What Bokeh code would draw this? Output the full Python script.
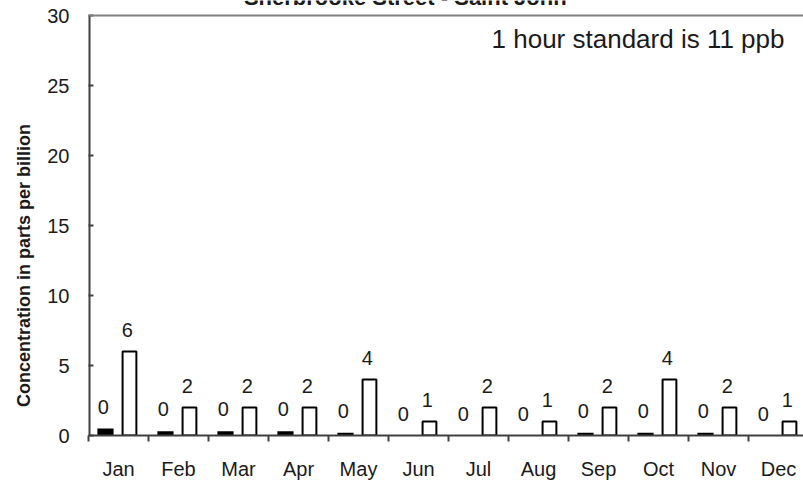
import math
from bokeh.plotting import figure
from bokeh.models import ColumnDataSource, FixedTicker, Label, Span, Range1d
from bokeh.transform import dodge
from bokeh.core.properties import value
from bokeh.embed import file_html
from bokeh.resources import INLINE

# ---- data ----
months = ["Jan", "Feb", "Mar", "Apr", "May", "Jun", "Jul", "Aug", "Sep", "Oct", "Nov", "Dec"]
series_black = [0.5, 0.3, 0.3, 0.3, 0.2, 0.0, 0.0, 0.0, 0.2, 0.2, 0.2, 0.0]
series_white = [6, 2, 2, 2, 4, 1, 2, 1, 2, 4, 2, 1]
labels_black = ["0", "0", "0", "0", "0", "0", "0", "0", "0", "0", "0", "0"]
labels_white = ["6", "2", "2", "2", "4", "1", "2", "1", "2", "4", "2", "1"]
y_ticks = [0, 5, 10, 15, 20, 25, 30]
title_text = "Sherbrooke Street - Saint John"
y_title = "Concentration in parts per billion"
note_text = "1 hour standard is 11 ppb"

FONT = "Liberation Sans"
TXT = "#1a1a1a"
AX = "#404040"

idx = list(range(len(months)))
src = ColumnDataSource(dict(idx=idx, black=series_black, white=series_white,
                            lb=labels_black, lw=labels_white))

y_top = y_ticks[-1]
# frame reaches the top of the canvas so the (cut-off) title can be drawn inside it
p = figure(width=803, height=482, output_backend="svg", toolbar_location=None,
           x_range=Range1d(-0.5, 11.4167), y_range=Range1d(0, y_top * 435 / 420),
           min_border_left=88, min_border_right=0, min_border_top=0, min_border_bottom=47,
           margin=(0, 0, 0, 0))
p.outline_line_color = None
p.xgrid.visible = False
p.ygrid.visible = False
p.background_fill_color = "white"
p.border_fill_color = "white"

# left axis line (from 0 up to the top tick only)
p.segment(x0=p.x_range.start, y0=y_ticks[0], x1=p.x_range.start, y1=y_top,
          line_color=AX, line_width=4)
# top line
p.add_layout(Span(location=y_top, dimension="width", line_color="#808080", line_width=2))

# bars
p.vbar(x=dodge("idx", -0.217, range=p.x_range), top="black", width=0.27, source=src,
       fill_color="black", line_color=None)
p.vbar(x=dodge("idx", 0.183, range=p.x_range), top="white", width=0.23, source=src,
       fill_color="white", line_color="black", line_width=2)

# value labels
p.text(x=dodge("idx", -0.255, range=p.x_range), y="black", text="lb", source=src,
       text_align="center", text_baseline="alphabetic", y_offset=-22,
       text_font=value(FONT), text_font_size="20px", text_color=TXT)
p.text(x=dodge("idx", 0.145, range=p.x_range), y="white", text="lw", source=src,
       text_align="center", text_baseline="alphabetic", y_offset=-22,
       text_font=value(FONT), text_font_size="20px", text_color=TXT)

# x axis
xa = p.xaxis[0]
xa.ticker = FixedTicker(ticks=idx, minor_ticks=[i - 0.5 for i in range(len(months) + 1)])
xa.major_label_overrides = {i: m for i, m in enumerate(months)}
xa.major_tick_in = 0
xa.major_tick_out = 0
xa.minor_tick_in = 0
xa.minor_tick_out = 6
xa.minor_tick_line_color = AX
xa.minor_tick_line_width = 2
xa.axis_line_color = AX
xa.axis_line_width = 2
xa.major_label_standoff = 16
xa.major_label_text_font = FONT
xa.major_label_text_font_size = "20px"
xa.major_label_text_color = TXT

# y axis
ya = p.yaxis[0]
ya.ticker = FixedTicker(ticks=y_ticks)
ya.major_tick_in = 5
ya.major_tick_out = 0
ya.minor_tick_in = 0
ya.minor_tick_out = 0
ya.major_tick_line_color = AX
ya.major_tick_line_width = 2
ya.axis_line_color = None
ya.major_label_standoff = 19
ya.major_label_text_font = FONT
ya.major_label_text_font_size = "20px"
ya.major_label_text_color = TXT
# trailing no-break spaces move the visible title down to where the reference has it
ya.axis_label = y_title + "\u00a0" * 19
ya.axis_label_standoff = 10
ya.axis_label_text_font = FONT
ya.axis_label_text_font_style = "bold"
ya.axis_label_text_font_size = "18px"
ya.axis_label_text_color = TXT

# texts
p.add_layout(Label(x=4.78, y=31.29, text=title_text, text_align="center",
                   text_baseline="alphabetic", text_font=FONT, text_font_style="bold",
                   text_font_size="22px", text_color=TXT))
p.add_layout(Label(x=11.1, y=28.35, text=note_text, text_align="right",
                   text_baseline="alphabetic", text_font=FONT, text_font_size="26px",
                   text_color=TXT))

open("out.html", "w").write(file_html(p, INLINE))
